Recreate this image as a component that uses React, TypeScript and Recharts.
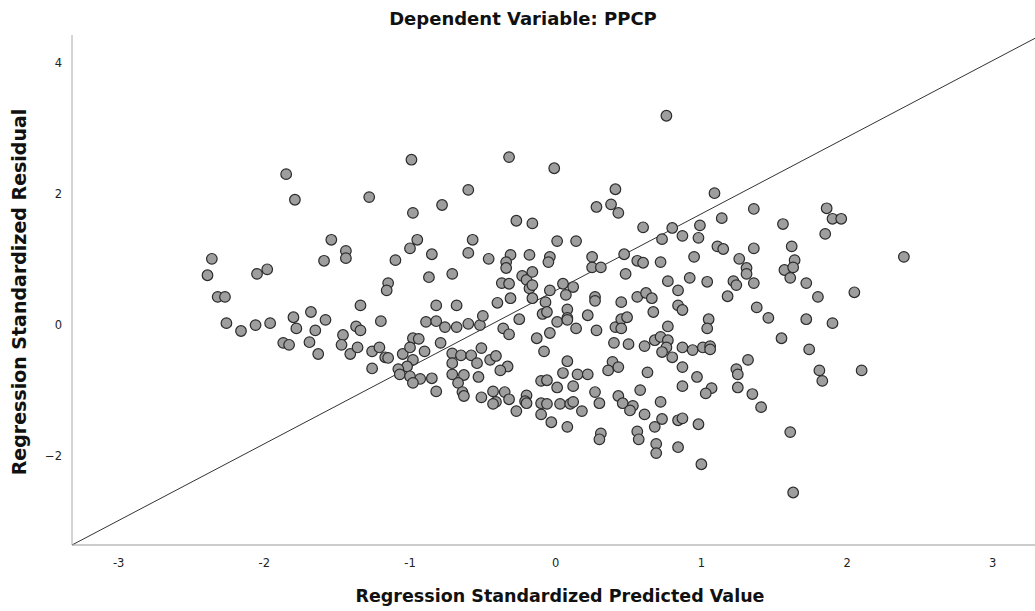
import { ScatterChart, Scatter, XAxis, YAxis, ReferenceLine } from "recharts";

// standardized predicted values (x)
const predicted = [
  -1.85, -1.79, -1.28, -0.99, -0.98, -1.54, -0.95, 0.76, -0.32, -0.01,
  -0.6, -0.78, 0.41, 0.28, 0.38, 0.43, -0.27, -0.16, 0.6, -0.57,
  0.01, 0.14, 0.73, 0.8, 0.87, 1.09, 1.36, 1.14, 0.99, 0.98,
  1.56, 1.86, 1.9, 1.96, 1.85, -2.36, -2.39, -2.05, -1.98, -2.32,
  -2.27, -2.26, -2.16, -2.06, -1.96, -1.8, -1.78, -1.68, -1.58, -1.65,
  -1.87, -1.83, -1.69, -1.63, -1.59, -1.44, -1.44, -1.34, -1.46, -1.47,
  -1.41, -1.36, -1.37, -1.34, -1.2, -1.15, -1.16, -1.1, -1.0, -0.85,
  -0.87, -0.82, -0.89, -0.82, -0.79, -1.26, -1.21, -1.17, -1.15, -1.05,
  -0.98, -0.94, -1.0, -0.9, -0.98, -1.02, -1.26, -1.08, -1.07, -1.0,
  -0.93, -0.85, -0.98, -0.82, -0.6, -0.46, -0.31, -0.34, -0.34, -0.18,
  -0.04, -0.05, 0.25, 0.25, 0.31, 0.47, 0.56, 0.6, 0.72, 0.95,
  -0.71, -0.37, -0.32, -0.23, -0.2, -0.16, -0.18, -0.16, -0.04, 0.05,
  0.12, 0.07, 0.48, 0.77, 0.84, 0.92, -0.68, -0.4, -0.31, -0.16,
  -0.07, 0.27, 0.27, 0.45, 0.56, 0.62, 0.66, 0.84, 0.87, -0.76,
  -0.68, -0.6, -0.52, -0.5, -0.36, -0.32, -0.25, -0.09, -0.06, 0.08,
  0.08, 0.01, 0.08, 0.14, 0.22, 0.28, 0.41, 0.45, 0.49, 0.45,
  0.67, 0.77, 0.87, -0.13, -0.04, -0.08, 0.4, 0.5, 0.61, 0.68,
  0.72, 0.77, 0.76, 0.73, 0.8, -0.71, -0.65, -0.58, -0.51, -0.71,
  -0.54, -0.45, -0.41, -0.33, -0.38, -0.71, -0.63, -0.53, 0.08, 0.05,
  0.15, 0.22, 0.39, 0.36, 0.43, 0.63, 0.87, -0.1, -0.06, -0.67,
  -0.64, -0.63, -0.51, -0.43, -0.41, -0.43, -0.35, -0.32, -0.27, -0.2,
  -0.21, -0.2, -0.1, -0.06, 0.01, 0.03, 0.1, 0.12, 0.12, 0.18,
  -0.1, -0.03, 0.08, 0.27, 0.3, 0.43, 0.46, 0.53, 0.51, 0.58,
  0.61, 0.72, 0.73, 0.68, 0.31, 0.3, 0.56, 0.57, 0.69, 0.69,
  0.84, 0.84, 0.87, 0.87, 1.11, 1.15, 1.36, 1.62, 1.26, 1.31,
  1.31, 1.57, 1.64, 1.63, 1.61, 2.39, 1.04, 1.22, 1.24, 1.36,
  1.72, 1.8, 2.05, 1.18, 1.38, 1.46, 1.72, 1.9, 1.05, 1.04,
  1.55, 1.74, 0.94, 1.01, 1.06, 1.06, 1.32, 1.24, 1.25, 1.81,
  2.1, 0.97, 1.83, 1.07, 1.03, 1.25, 1.35, 1.41, 0.98, 1.61,
  1.0, 1.63,
];

// standardized residuals (y), same order as predicted
const residual = [
  2.3, 1.91, 1.95, 2.52, 1.71, 1.3, 1.3, 3.19, 2.56, 2.39,
  2.06, 1.83, 2.07, 1.8, 1.84, 1.71, 1.59, 1.55, 1.49, 1.3,
  1.28, 1.28, 1.31, 1.48, 1.36, 2.01, 1.77, 1.63, 1.52, 1.33,
  1.54, 1.78, 1.62, 1.62, 1.39, 1.01, 0.76, 0.78, 0.85, 0.43,
  0.43, 0.03, -0.09, 0.0, 0.03, 0.12, -0.05, 0.2, 0.08, -0.08,
  -0.27, -0.3, -0.26, -0.44, 0.98, 1.13, 1.02, 0.3, -0.15, -0.3,
  -0.44, -0.34, -0.02, -0.08, 0.06, 0.64, 0.53, 0.99, 1.17, 1.08,
  0.73, 0.3, 0.05, 0.06, -0.27, -0.4, -0.34, -0.49, -0.5, -0.44,
  -0.2, -0.21, -0.34, -0.4, -0.53, -0.63, -0.66, -0.67, -0.75, -0.78,
  -0.82, -0.81, -0.88, -1.01, 1.1, 1.01, 1.07, 0.96, 0.87, 1.07,
  1.04, 0.96, 1.04, 0.88, 0.88, 1.08, 0.98, 0.95, 0.96, 1.04,
  0.78, 0.64, 0.63, 0.75, 0.69, 0.81, 0.56, 0.61, 0.53, 0.63,
  0.58, 0.46, 0.78, 0.67, 0.53, 0.72, 0.3, 0.34, 0.41, 0.41,
  0.35, 0.43, 0.37, 0.35, 0.43, 0.49, 0.41, 0.3, 0.23, -0.03,
  -0.03, 0.02, 0.0, 0.14, -0.05, -0.14, 0.09, 0.17, 0.2, 0.24,
  0.11, 0.05, 0.08, -0.05, 0.15, -0.08, -0.03, 0.09, 0.12, -0.05,
  0.2, -0.02, -0.34, -0.2, -0.12, -0.4, -0.27, -0.29, -0.32, -0.23,
  -0.18, -0.23, -0.34, -0.41, -0.49, -0.43, -0.46, -0.46, -0.35, -0.58,
  -0.58, -0.53, -0.47, -0.63, -0.69, -0.75, -0.76, -0.79, -0.55, -0.73,
  -0.75, -0.75, -0.56, -0.69, -0.64, -0.72, -0.64, -0.85, -0.84, -0.88,
  -1.02, -1.08, -1.1, -1.01, -1.17, -1.2, -1.02, -1.13, -1.31, -1.07,
  -1.16, -1.19, -1.19, -1.2, -0.95, -1.2, -1.2, -1.17, -0.93, -1.31,
  -1.36, -1.48, -1.55, -1.02, -1.19, -1.08, -1.19, -1.23, -1.3, -0.99,
  -1.36, -1.17, -1.43, -1.55, -1.65, -1.74, -1.62, -1.74, -1.81, -1.95,
  -1.86, -1.45, -1.42, -0.93, 1.2, 1.16, 1.17, 1.2, 1.01, 0.87,
  0.78, 0.84, 0.99, 0.88, 0.72, 1.04, 0.66, 0.67, 0.61, 0.64,
  0.64, 0.43, 0.5, 0.44, 0.27, 0.11, 0.09, 0.03, 0.09, -0.05,
  -0.2, -0.37, -0.38, -0.34, -0.32, -0.37, -0.53, -0.67, -0.75, -0.69,
  -0.69, -0.79, -0.85, -0.96, -1.04, -0.95, -1.05, -1.25, -1.51, -1.63,
  -2.12, -2.55,
];

const xTicks = [-3, -2, -1, 0, 1, 2, 3];
const yTicks = [-2, 0, 2, 4];
const xDomain = [-3.32, 3.29];
const yDomain = [-3.35, 4.42];
// the diagonal drawn corner to corner across the plot
const diagonal = [
  { x: -3.32, y: -3.35 },
  { x: 3.29, y: 4.37 },
];

const points = predicted.map((x, i) => ({ x, y: residual[i] }));

const font = "'DejaVu Sans', sans-serif";

const Dot = (props: any) => {
  const { cx, cy } = props;
  if (cx == null || cy == null) return null;
  return <circle cx={cx} cy={cy} r={5.3} fill="#9e9e9e" stroke="#2b2b2b" strokeWidth={1.2} />;
};

export default function App() {
  return (
    <div style={{ position: "relative", width: 1035, height: 611, background: "#fff" }}>
      <style>{"body{margin:0}"}</style>
      <ScatterChart width={1035} height={611} margin={{ top: 35, right: 0, bottom: 26, left: 12 }}>
        <XAxis
          type="number"
          dataKey="x"
          domain={xDomain}
          ticks={xTicks}
          allowDataOverflow
          height={40}
          tickLine={false}
          tickMargin={8}
          axisLine={{ stroke: "#999" }}
          tick={{ fontSize: 11.5, fill: "#222", fontFamily: font }}
        />
        <YAxis
          type="number"
          dataKey="y"
          domain={yDomain}
          ticks={yTicks}
          allowDataOverflow
          width={60}
          tickLine={false}
          tickMargin={4}
          axisLine={{ stroke: "#aaa" }}
          tickFormatter={(v: number) => (v < 0 ? "\u2212" + Math.abs(v) : String(v))}
          tick={{ fontSize: 11.5, fill: "#222", fontFamily: font }}
        />
        <ReferenceLine segment={diagonal} stroke="#333" strokeWidth={1} ifOverflow="visible" />
        <Scatter data={points} shape={<Dot />} isAnimationActive={false} />
      </ScatterChart>
      <svg
        width={1035}
        height={611}
        style={{ position: "absolute", left: 0, top: 0, pointerEvents: "none" }}
      >
        <text x={523} y={25} textAnchor="middle" fontFamily={font} fontWeight="bold" fontSize={18} fill="#111">
          Dependent Variable: PPCP
        </text>
        <text x={560} y={602} textAnchor="middle" fontFamily={font} fontWeight="bold" fontSize={17.5} fill="#111">
          Regression Standardized Predicted Value
        </text>
        <text
          transform="translate(26,292) rotate(-90)"
          textAnchor="middle"
          fontFamily={font}
          fontWeight="bold"
          fontSize={19}
          fill="#111"
        >
          Regression Standardized Residual
        </text>
      </svg>
    </div>
  );
}
